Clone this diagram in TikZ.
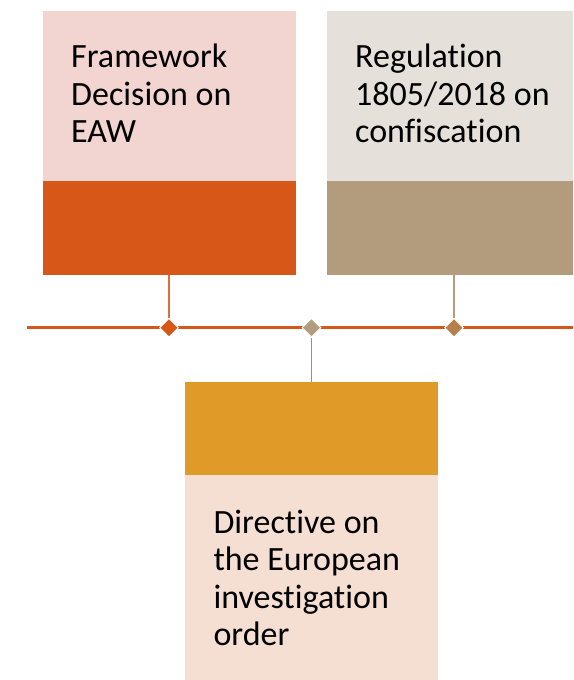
\documentclass[tikz,border=0pt]{standalone}
\usepackage{fontspec}
\setmainfont[RawFeature={-liga;-dlig;-clig}]{Carlito}
\usetikzlibrary{shapes.geometric}
\definecolor{cOrange}{HTML}{D65717}
\definecolor{cOrangeL}{HTML}{F2D4D0}
\definecolor{cTan}{HTML}{B39C7D}
\definecolor{cTanL}{HTML}{E5E0DA}
\definecolor{cGold}{HTML}{E09A28}
\definecolor{cGoldL}{HTML}{F5DFD2}
\definecolor{cBrown}{HTML}{B5804B}
\tikzset{
  lbl/.style={anchor=base west, inner sep=0pt, font=\fontsize{34}{37.5}\selectfont, text=black},
  dia/.style={diamond, draw=white, line width=1pt, minimum width=19pt, minimum height=19pt, inner sep=0pt},
  conn/.style={line width=1.6pt},
}
\begin{document}
\begin{tikzpicture}[x=1pt,y=-1pt]
\useasboundingbox (0,0) rectangle (573,680);
\begin{scope}
\clip (0,0) rectangle (573,680);
% left card
\fill[cOrangeL] (42.5,10.7) rectangle (295.5,180.5);
\fill[cOrange] (42.5,180.5) rectangle (295.5,275);
% right card
\fill[cTanL] (327.3,10.7) rectangle (581,180.5);
\fill[cTan] (327.3,180.5) rectangle (581,275);
% bottom card
\fill[cGold] (185,381.5) rectangle (437.7,475);
\fill[cGoldL] (185,475) rectangle (437.7,680);
\end{scope}
\coordinate (lt) at (169,275);
\coordinate (rt) at (454,275);
\coordinate (mb) at (311.5,381.5);
\coordinate (ls) at (27,327.7);
\coordinate (le) at (573,327.7);
% timeline
\draw[cOrange, line width=2.6pt] (ls) -- (le);
% diamonds
\node[dia, fill=cOrange] (d1) at (169,327.7) {};
\node[dia, fill=cTan] (d2) at (311.5,327.7) {};
\node[dia, fill=cBrown] (d3) at (454,327.7) {};
% connectors
\draw[conn, cOrange!85!white] (lt) -- (d1.north);
\draw[conn, cTan] (rt) -- (d3.north);
\draw[conn, cGold!90!black] (d2.south) -- (mb);
% texts
\node[lbl] (t1) at (71,67.7) {\parbox[t]{220pt}{\raggedright Framework\\Decision on\\EAW}};
\node[lbl] (t2) at (355,67.7) {\parbox[t]{220pt}{\raggedright Regulation\\1805/2018 on\\confiscation}};
\node[lbl] (t3) at (213.3,533.3) {\parbox[t]{220pt}{\raggedright Directive on\\the European\\investigation\\order}};
\end{tikzpicture}
\end{document}
